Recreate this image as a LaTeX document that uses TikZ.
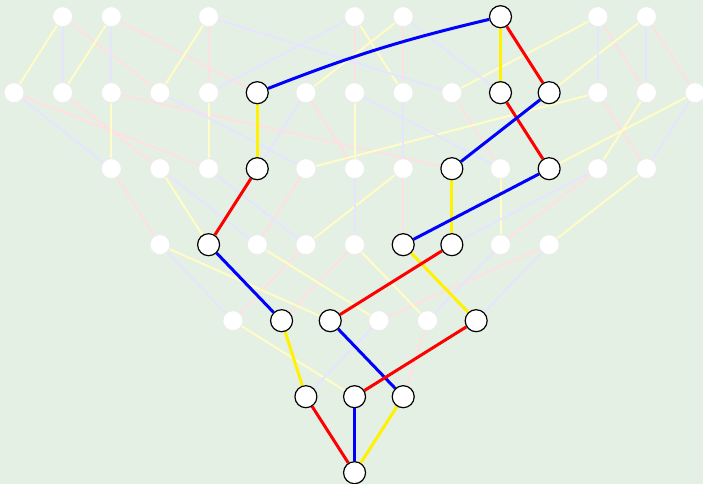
\documentclass[tikz,border=0pt]{standalone}
\usepackage{tikz}

\definecolor{paperbg}{RGB}{229,240,228}
\colorlet{fadeR}{red!12!white}
\colorlet{fadeY}{yellow!22!white}
\colorlet{fadeB}{blue!10!white}

\pgfdeclarelayer{paper}
\pgfdeclarelayer{wires}
\pgfsetlayers{paper,wires,main}

\begin{document}
\begin{tikzpicture}[x=48.65pt, y=-76pt, line cap=round, line join=round,
    dot/.style={circle, inner sep=0pt, minimum size=20pt, fill=white, draw=black!8, line width=0.8pt},
    hot/.style={circle, inner sep=0pt, minimum size=22pt, fill=white, draw=black, line width=1.2pt},
    faint/.style={line width=2pt},
    strong/.style={line width=3pt}]
  \useasboundingbox (-0.2878,-0.2197) rectangle (14.1625,6.1487);
  \begin{pgfonlayer}{paper}
    \fill[paperbg] (-0.2878,-0.2197) rectangle (14.1625,6.1487);
  \end{pgfonlayer}

  % ================= nodes, row by row =================
  \foreach \n/\k in {a62/1, a111/2, a208/4, a354/7, a403/8, a597/12, a646/13}
    \node[dot] (\n) at (\k,0) {};
  \node[hot] (a500) at (10,0) {};
  \foreach \n/\k in {b14/0, b62/1, b111/2, b160/3, b208/4, b306/6, b354/7,
                     b403/8, b452/9, b597/12, b646/13, b695/14}
    \node[dot] (\n) at (\k,1) {};
  \foreach \n/\k in {b257/5, b500/10, b549/11}
    \node[hot] (\n) at (\k,1) {};
  \foreach \n/\k in {c111/2, c160/3, c208/4, c306/6, c354/7, c403/8, c500/10,
                     c597/12, c646/13}
    \node[dot] (\n) at (\k,2) {};
  \foreach \n/\k in {c257/5, c452/9, c549/11}
    \node[hot] (\n) at (\k,2) {};
  \foreach \n/\k in {d160/3, d257/5, d306/6, d354/7, d500/10, d549/11}
    \node[dot] (\n) at (\k,3) {};
  \foreach \n/\k in {d208/4, d403/8, d452/9}
    \node[hot] (\n) at (\k,3) {};
  \foreach \n/\k in {e233/4.5, e379/7.5, e427/8.5}
    \node[dot] (\n) at (\k,4) {};
  \foreach \n/\k in {e282/5.5, e330/6.5, e476/9.5}
    \node[hot] (\n) at (\k,4) {};
  \foreach \n/\k in {f306/6, f354/7, f403/8}
    \node[hot] (\n) at (\k,5) {};
  \node[hot] (g354) at (7,6) {};

  \begin{pgfonlayer}{wires}
    % ================= faded edges =================
    \foreach \u/\v in {a62/b160, a111/b257, a208/b208, a354/b354, a403/b403,
        a597/b646, a646/b695, b14/c208, b62/c160, b111/c452, b306/c354,
        b452/c500, b597/c646, c111/d160, c306/d257, c403/d403, c597/d500,
        d306/e233, d354/e282, d549/e379, e427/f403}
      \draw[faint, fadeR] (\u) -- (\v);
    \foreach \u/\v in {a62/b14, a111/b62, a208/b160, a354/b403, a403/b306,
        a597/b452, a646/b549, b111/c111, b208/c208, b354/c354, b597/c306,
        b646/c597, b695/c549, c160/d208, c403/d306, c500/d500, c646/d549,
        d160/e330, d257/e379, d354/e427, e233/f354}
      \draw[faint, fadeY] (\u) -- (\v);
    \foreach \u/\v in {a62/b62, a111/b111, a208/b452, a354/b208, a403/b500,
        a597/b597, a646/b646, b14/c111, b160/c306, b306/c257, b354/c500,
        b403/c403, b695/c646, c160/d257, c208/d306, c354/d354, c597/d452,
        d160/e233, d500/e427, d549/e476, e379/f306}
      \draw[faint, fadeB] (\u) -- (\v);

    % ================= highlighted path =================
    \draw[strong, blue] (b257) to[bend left=4] (a500);
    \draw[strong, yellow] (a500) -- (b500);
    \draw[strong, red] (a500) -- (b549);
    \draw[strong, yellow] (b257) -- (c257);
    \draw[strong, red] (b500) -- (c549);
    \draw[strong, blue] (b549) -- (c452);
    \draw[strong, red] (c257) -- (d208);
    \draw[strong, yellow] (c452) -- (d452);
    \draw[strong, blue] (c549) -- (d403);
    \draw[strong, blue] (d208) -- (e282);
    \draw[strong, yellow] (d403) -- (e476);
    \draw[strong, red] (d452) -- (e330);
    \draw[strong, yellow] (e282) -- (f306);
    \draw[strong, blue] (e330) -- (f403);
    \draw[strong, red] (e476) -- (f354);
    \draw[strong, red] (f306) -- (g354);
    \draw[strong, blue] (f354) -- (g354);
    \draw[strong, yellow] (f403) -- (g354);
  \end{pgfonlayer}
\end{tikzpicture}
\end{document}
